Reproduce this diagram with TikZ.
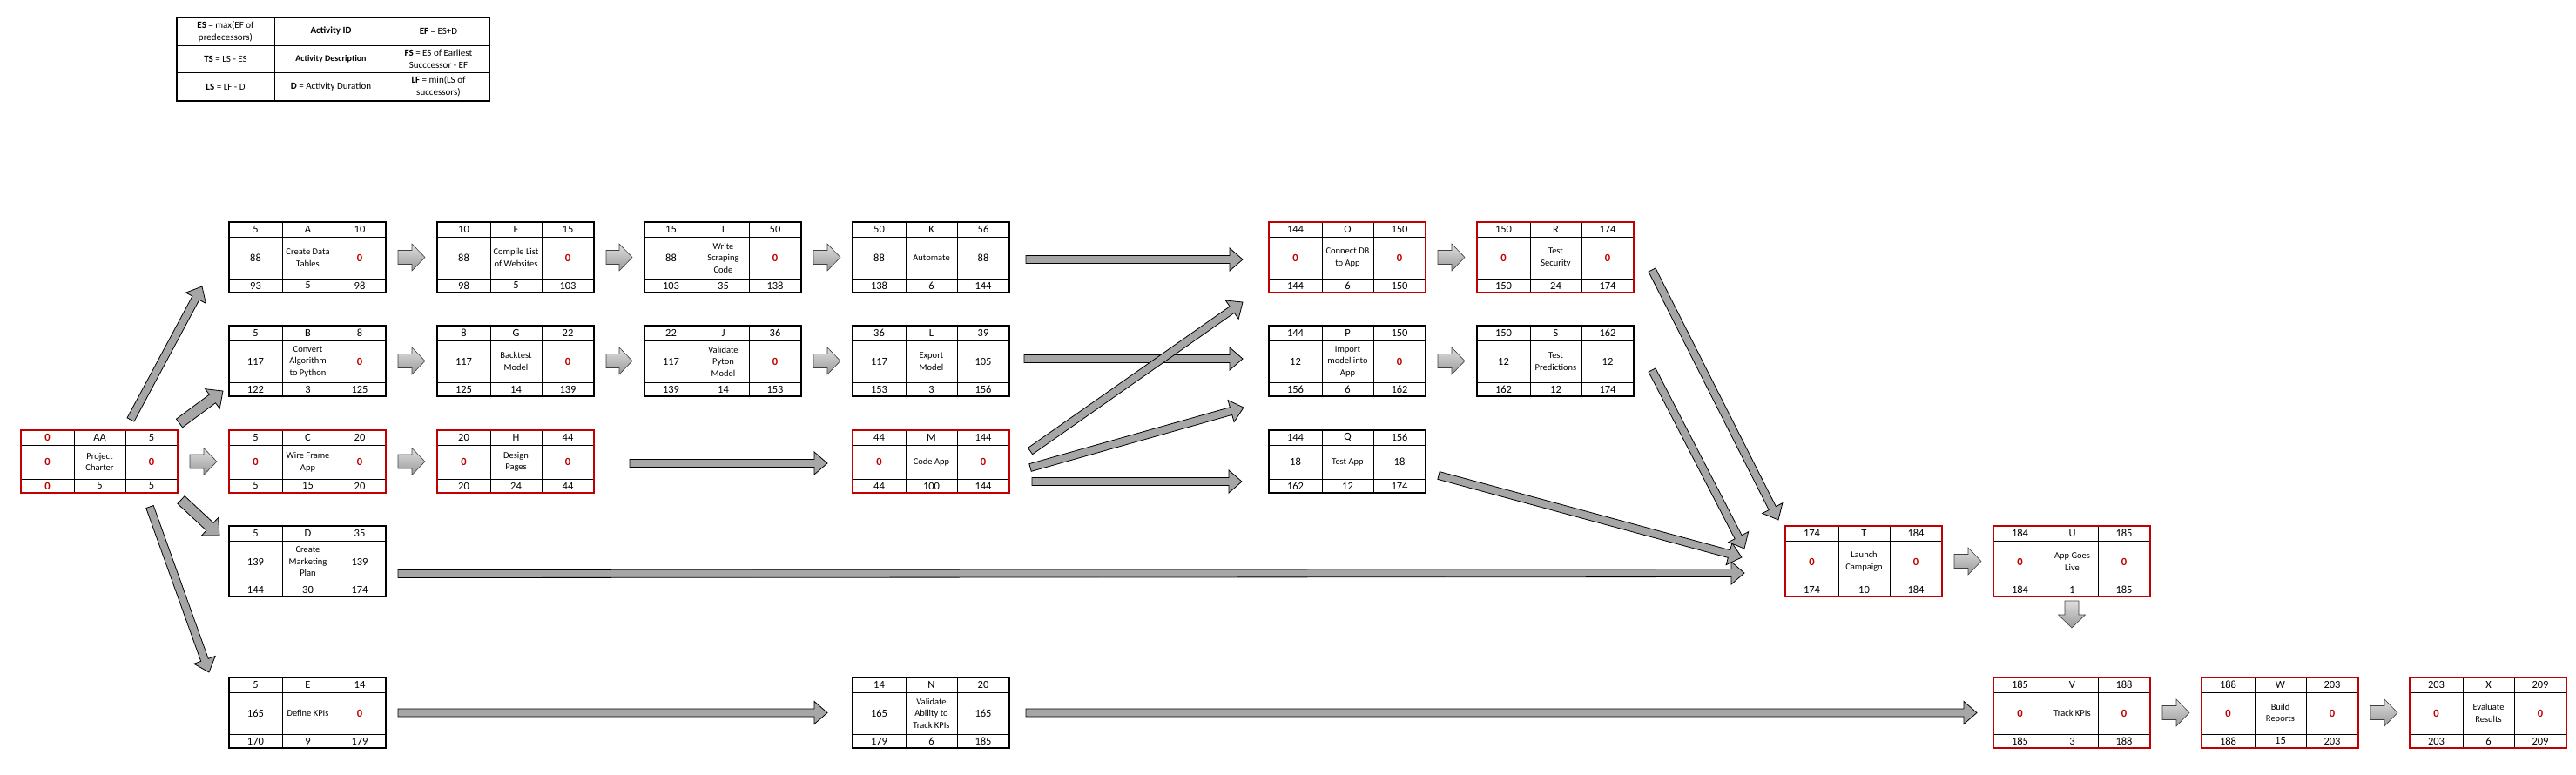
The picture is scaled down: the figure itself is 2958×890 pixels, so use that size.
\documentclass[tikz,border=0pt]{standalone}
\usepackage{fontspec}
\setmainfont{Carlito}
\usetikzlibrary{calc}

\definecolor{critred}{RGB}{192,0,0}
\definecolor{arrowgray}{RGB}{166,166,166}

\newcommand{\redzero}{\textcolor{critred}{\textbf{0}}}

% one row of an activity box: name, row tag, y offset, style of middle cell, a/b/c
\def\actrow#1#2#3#4#5/#6/#7\relax{%
  \node[numtext] (#1-#2a) at ([shift={(30.5,#3)}]#1.north west) {#5};
  \node[#4] (#1-#2b) at ([shift={(90.5,#3)}]#1.north west) {#6};
  \node[numtext] (#1-#2c) at ([shift={(150,#3)}]#1.north west) {#7};}

% activity box: style, name, top left, height, top row, middle row, bottom row
\newcommand{\activity}[7]{%
  \node[#1, minimum width=180pt, minimum height=#4pt, anchor=north west] (#2) at (#3) {};
  \draw[cellline] ([shift={(0,17)}]#2.north west) -- ([shift={(0,17)}]#2.north east);
  \draw[cellline] ([shift={(0,-16)}]#2.south west) -- ([shift={(0,-16)}]#2.south east);
  \draw[cellline] ([shift={(61,0)}]#2.north west) -- ([shift={(61,0)}]#2.south west);
  \draw[cellline] ([shift={(120,0)}]#2.north west) -- ([shift={(120,0)}]#2.south west);
  \draw[#1, fill=none] (#2.north west) rectangle (#2.south east);
  \pgfmathsetmacro{\midy}{17+(#4-33)/2}
  \actrow{#2}{t}{8.5}{numtext}#5\relax
  \actrow{#2}{m}{\midy}{desctext}#6\relax
  \actrow{#2}{b}{#4-8}{numtext}#7\relax}

% block arrow: style, from, to, half shaft, half head
\newcommand{\blockarrow}[5][]{%
  \path #2 coordinate (ba-s) #3 coordinate (ba-e);
  \pgfpointanchor{ba-s}{center}\pgfgetlastxy{\bax}{\bay}%
  \pgfpointanchor{ba-e}{center}\pgfgetlastxy{\bbx}{\bby}%
  \pgfmathsetmacro{\baang}{atan2(\bby-\bay,\bbx-\bax)}%
  \pgfmathsetmacro{\balen}{veclen(\bbx-\bax,\bby-\bay)}%
  \begin{scope}[shift={(\bax,\bay)},rotate=\baang]
    \draw[#1] (0pt,-#4pt) -- ({\balen pt-15pt},-#4pt) -- ({\balen pt-15pt},-#5pt)
      -- (\balen pt,0pt) -- ({\balen pt-15pt},#5pt) -- ({\balen pt-15pt},#4pt) -- (0pt,#4pt) -- cycle;
  \end{scope}}

\begin{document}
\begin{tikzpicture}[x=1pt,y=-1pt]
 \tikzstyle{actbox} = [draw=black,line width=2pt,fill=white,inner sep=0pt,outer sep=0pt]
 \tikzstyle{critbox} = [draw=critred,line width=2.6pt,fill=white,inner sep=0pt,outer sep=0pt]
 \tikzstyle{legendbox} = [draw=black,line width=2pt,fill=white,inner sep=0pt,outer sep=0pt]
 \tikzstyle{cellline} = [draw=black,line width=0.9pt]
 \tikzstyle{numtext} = [inner sep=0pt,font=\fontsize{12.5}{14}\selectfont]
 \tikzstyle{desctext} = [inner sep=0pt,align=center,font=\fontsize{10.5}{13.5}\selectfont]
 \tikzstyle{legendtext} = [inner sep=0pt,align=center,font=\fontsize{11}{14}\selectfont]
 \tikzstyle{fatarrow} = [draw=black!75,line width=0.6pt,top color=gray!25,bottom color=gray!80]
 \tikzstyle{longarrow} = [draw=black,line width=0.8pt,fill=arrowgray]

 \useasboundingbox (0,0) rectangle (2958,890);

% Legend
 \node[legendbox,minimum width=359pt,minimum height=96pt,anchor=north west] (legend) at (203,20) {};
 \draw[cellline] ([shift={(0,32)}]legend.north west) -- ([shift={(0,32)}]legend.north east);
 \draw[cellline] ([shift={(0,63)}]legend.north west) -- ([shift={(0,63)}]legend.north east);
 \draw[cellline] ([shift={(112,0)}]legend.north west) -- ([shift={(112,0)}]legend.south west);
 \draw[cellline] ([shift={(242,0)}]legend.north west) -- ([shift={(242,0)}]legend.south west);
 \draw[legendbox,fill=none] (legend.north west) rectangle (legend.south east);
 \node[legendtext] (lg-es) at ([shift={(56,16)}]legend.north west) {\textbf{ES} = max(EF of\\predecessors)};
 \node[legendtext] (lg-id) at ([shift={(177,16)}]legend.north west) {\textbf{Activity ID}};
 \node[legendtext] (lg-ef) at ([shift={(300.5,16)}]legend.north west) {\textbf{EF} = ES+D};
 \node[legendtext] (lg-ts) at ([shift={(56,47.5)}]legend.north west) {\textbf{TS} = LS - ES};
 \node[legendtext,font=\fontsize{10}{12}\selectfont] (lg-desc) at ([shift={(177,47.5)}]legend.north west) {\textbf{Activity Description}};
 \node[legendtext] (lg-fs) at ([shift={(300.5,47.5)}]legend.north west) {\textbf{FS} = ES of Earliest\\Succcessor - EF};
 \node[legendtext] (lg-ls) at ([shift={(56,79.5)}]legend.north west) {\textbf{LS} = LF - D};
 \node[legendtext] (lg-d) at ([shift={(177,79.5)}]legend.north west) {\textbf{D} = Activity Duration};
 \node[legendtext] (lg-lf) at ([shift={(300.5,79.5)}]legend.north west) {\textbf{LF} = min(LS of\\successors)};

% Activities
 \activity{critbox}{AA}{24,494}{72}{\redzero/AA/5}{\redzero/Project\\Charter/\redzero}{\redzero/5/5}
 \activity{actbox}{A}{263,255}{81}{5/A/10}{88/Create Data\\Tables/\redzero}{93/5/98}
 \activity{actbox}{B}{263,374}{81}{5/B/8}{117/Convert\\Algorithm\\to Python/\redzero}{122/3/125}
 \activity{critbox}{C}{263,494}{72}{5/C/20}{\redzero/Wire Frame\\App/\redzero}{5/15/20}
 \activity{actbox}{D}{263,604}{81}{5/D/35}{139/Create\\Marketing\\Plan/139}{144/30/174}
 \activity{actbox}{E}{263,778}{81}{5/E/14}{165/Define KPIs/\redzero}{170/9/179}
 \activity{actbox}{F}{502,255}{81}{10/F/15}{88/Compile List\\of Websites/\redzero}{98/5/103}
 \activity{actbox}{G}{502,374}{81}{8/G/22}{117/Backtest\\Model/\redzero}{125/14/139}
 \activity{critbox}{H}{502,494}{72}{20/H/44}{\redzero/Design\\Pages/\redzero}{20/24/44}
 \activity{actbox}{I}{740,255}{81}{15/I/50}{88/Write\\Scraping\\Code/\redzero}{103/35/138}
 \activity{actbox}{J}{740,374}{81}{22/J/36}{117/Validate\\Pyton\\Model/\redzero}{139/14/153}
 \activity{actbox}{K}{979,255}{81}{50/K/56}{88/Automate/88}{138/6/144}
 \activity{actbox}{L}{979,374}{81}{36/L/39}{117/Export\\Model/105}{153/3/156}
 \activity{critbox}{M}{979,494}{72}{44/M/144}{\redzero/Code App/\redzero}{44/100/144}
 \activity{actbox}{N}{979,778}{81}{14/N/20}{165/Validate\\Ability to\\Track KPIs/165}{179/6/185}
 \activity{critbox}{O}{1457,255}{81}{144/O/150}{\redzero/Connect DB\\to App/\redzero}{144/6/150}
 \activity{actbox}{P}{1457,374}{81}{144/P/150}{12/Import\\model into\\App/\redzero}{156/6/162}
 \activity{actbox}{Q}{1457,494}{72}{144/Q/156}{18/Test App/18}{162/12/174}
 \activity{critbox}{R}{1696,255}{81}{150/R/174}{\redzero/Test\\Security/\redzero}{150/24/174}
 \activity{actbox}{S}{1696,374}{81}{150/S/162}{12/Test\\Predictions/12}{162/12/174}
 \activity{critbox}{T}{2050,604}{81}{174/T/184}{\redzero/Launch\\Campaign/\redzero}{174/10/184}
 \activity{critbox}{U}{2289,604}{81}{184/U/185}{\redzero/App Goes\\Live/\redzero}{184/1/185}
 \activity{critbox}{V}{2289,778}{81}{185/V/188}{\redzero/Track KPIs/\redzero}{185/3/188}
 \activity{critbox}{W}{2528,778}{81}{188/W/203}{\redzero/Build\\Reports/\redzero}{188/15/203}
 \activity{critbox}{X}{2767,778}{81}{203/X/209}{\redzero/Evaluate\\Results/\redzero}{203/6/209}

% Short arrows between neighbours
 \blockarrow[fatarrow]{([xshift=14pt]AA.east)}{([xshift=-14pt]C.west)}{8}{15.5}
 \blockarrow[fatarrow]{([xshift=14pt]A.east)}{([xshift=-14pt]F.west)}{8}{15.5}
 \blockarrow[fatarrow]{([xshift=14pt]F.east)}{([xshift=-14pt]I.west)}{8}{15.5}
 \blockarrow[fatarrow]{([xshift=14pt]I.east)}{([xshift=-14pt]K.west)}{8}{15.5}
 \blockarrow[fatarrow]{([xshift=14pt]B.east)}{([xshift=-14pt]G.west)}{8}{15.5}
 \blockarrow[fatarrow]{([xshift=14pt]G.east)}{([xshift=-14pt]J.west)}{8}{15.5}
 \blockarrow[fatarrow]{([xshift=14pt]J.east)}{([xshift=-14pt]L.west)}{8}{15.5}
 \blockarrow[fatarrow]{([xshift=14pt]C.east)}{([xshift=-14pt]H.west)}{8}{15.5}
 \blockarrow[fatarrow]{([xshift=14pt]O.east)}{([xshift=-14pt]R.west)}{8}{15.5}
 \blockarrow[fatarrow]{([xshift=14pt]P.east)}{([xshift=-14pt]S.west)}{8}{15.5}
 \blockarrow[fatarrow]{([xshift=14pt]T.east)}{([xshift=-14pt]U.west)}{8}{15.5}
 \blockarrow[fatarrow]{([shift={(0,5)}]U.south)}{([shift={(0,-57)}]V.north)}{8}{15.5}
 \blockarrow[fatarrow]{([xshift=14pt]V.east)}{([xshift=-14pt]W.west)}{8}{15.5}
 \blockarrow[fatarrow]{([xshift=14pt]W.east)}{([xshift=-14pt]X.west)}{8}{15.5}

% Long arrows
 \blockarrow[longarrow]{([shift={(126,-12)}]AA.north west)}{([shift={(-31,-7)}]A.south west)}{4.5}{13}
 \blockarrow[longarrow]{([shift={(2,-8)}]AA.north east)}{([shift={(-7,-6)}]B.south west)}{6}{14}
 \blockarrow[longarrow]{([shift={(4,8)}]AA.south east)}{([shift={(-11,11)}]D.north west)}{6}{14}
 \blockarrow[longarrow]{([shift={(58,16)}]AA.south)}{([shift={(-23,-6)}]E.north west)}{4.5}{13}
 \blockarrow[longarrow]{([shift={(41,2)}]H.east)}{([shift={(-29,2)}]M.west)}{4.5}{13}
 \blockarrow[longarrow]{([shift={(19,2.5)}]K.east)}{([shift={(-30,2.5)}]O.west)}{4.5}{13}
 \blockarrow[longarrow]{([shift={(17,-2.5)}]L.east)}{([shift={(-30,-2.5)}]P.west)}{4.5}{13}
 \blockarrow[longarrow]{([shift={(24,-12)}]M.east)}{([shift={(-30,11)}]O.south west)}{4.5}{13}
 \blockarrow[longarrow]{([shift={(24,7)}]M.east)}{([shift={(-29,13)}]P.south west)}{4.5}{13}
 \blockarrow[longarrow]{([shift={(26,23)}]M.east)}{([shift={(-31,23)}]Q.west)}{4.5}{13}
 \blockarrow[longarrow]{([shift={(14,14.5)}]D.east)}{([shift={(-47,13.5)}]T.west)}{4.5}{13}
 \blockarrow[longarrow]{([shift={(15,16)}]Q.east)}{([shift={(-50,-4.5)}]T.west)}{4.5}{13}
 \blockarrow[longarrow]{([shift={(21,10.5)}]S.east)}{([shift={(-47,-14.5)}]T.west)}{4.5}{13}
 \blockarrow[longarrow]{([shift={(21,14.5)}]R.east)}{([shift={(-8,-7)}]T.north west)}{4.5}{13}
 \blockarrow[longarrow]{([shift={(14,0)}]E.east)}{([shift={(-29,0)}]N.west)}{4.5}{13}
 \blockarrow[longarrow]{([shift={(19,0)}]N.east)}{([shift={(-19,0)}]V.west)}{4.5}{13}

\end{tikzpicture}
\end{document}
